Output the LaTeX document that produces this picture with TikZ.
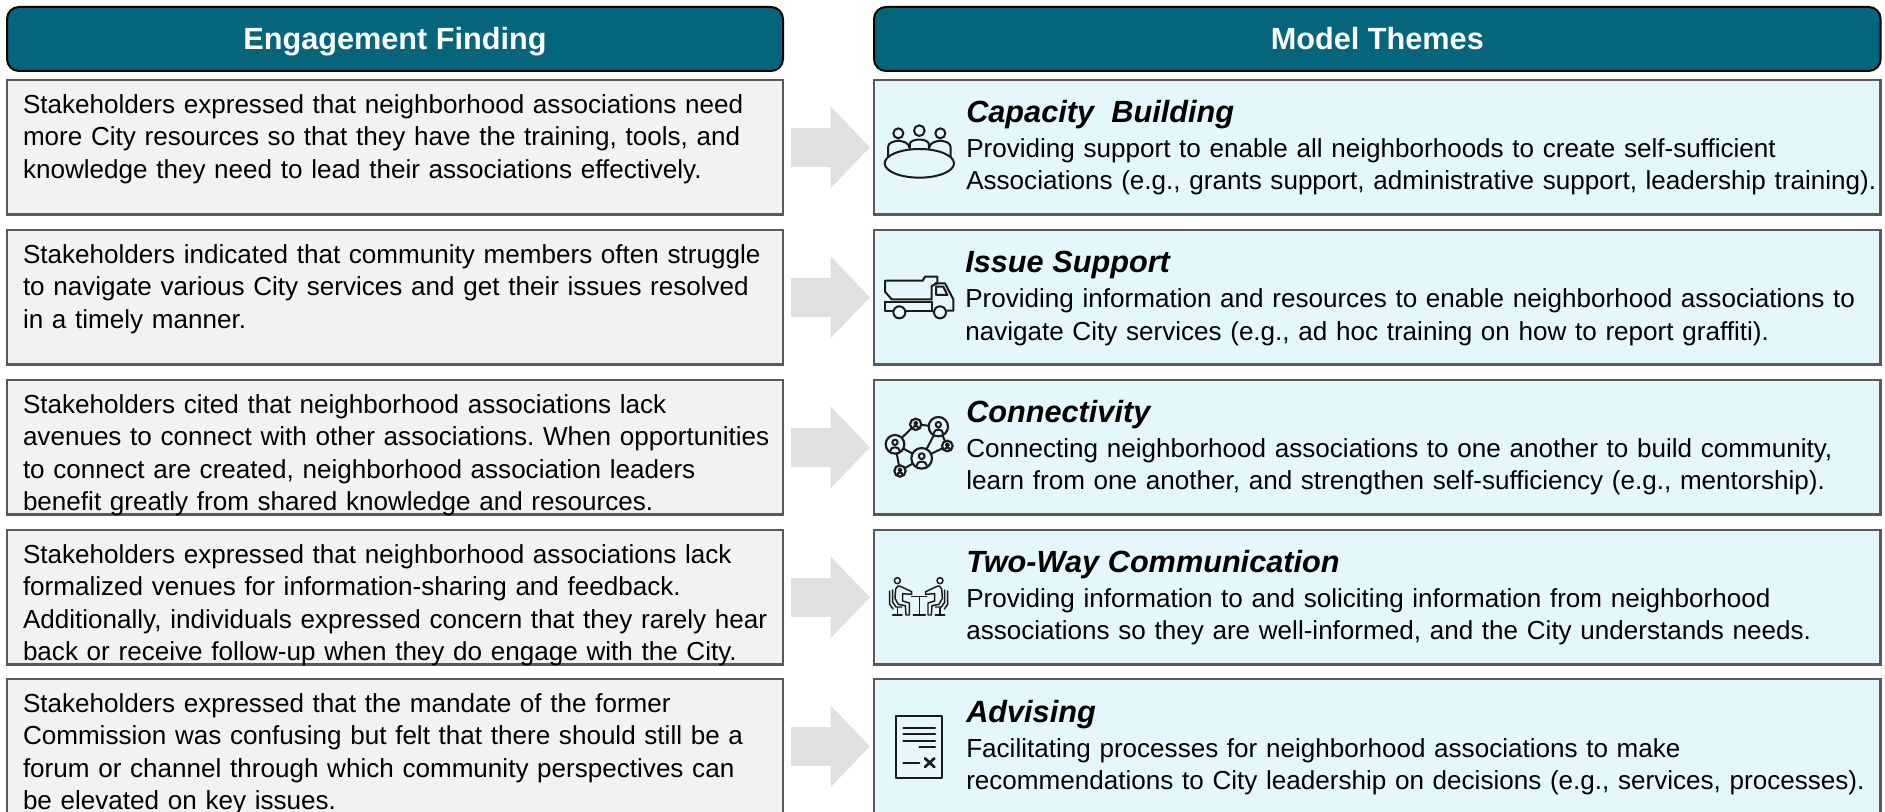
\documentclass[tikz,border=0pt]{standalone}
\usepackage{fontspec}
\setmainfont{Liberation Sans}
\usetikzlibrary{arrows.meta}

\definecolor{headteal}{HTML}{04657B}
\definecolor{findgray}{HTML}{F2F2F2}
\definecolor{themeblue}{HTML}{E4F7FC}
\definecolor{edgegray}{HTML}{595959}
\definecolor{arrowgray}{HTML}{E0E0E0}
\definecolor{iconink}{HTML}{1A1A1A}

\newcommand{\themehead}[1]{{\fontsize{23}{24.4}\selectfont\bfseries\itshape #1}\\[1.8pt]}
\newcommand{\netperson}[2]{\draw[iconline,shift={(#1)},scale=#2] (0,-6) circle (8) (-14,20) .. controls (-14,5) and (14,5) .. (14,20);}
\newcommand{\sitter}{%
\draw[iconthin] (52,47) circle (9);
\draw[iconthin] (47,72) .. controls (48,64) and (56,60) .. (65,66) -- (95,80) -- (95,88) -- (68,86) -- (68,108) -- (88,114) -- (88,150) -- (78,150) -- (76,122) -- (55,118) -- (45,100) -- cycle;
\draw[iconthin] (38,75) -- (38,112) -- (48,126) -- (66,126);
\draw[iconthin] (29,78) -- (29,118) -- (39,132);
\draw[iconthin] (52,128) -- (52,150) (38,150) -- (66,150);}

\begin{document}
\frenchspacing
\begin{tikzpicture}[
    x=0.75pt,y=-0.75pt,
    header/.style={draw=black,fill=headteal,line width=1.5pt,rounded corners=9pt,outer sep=0pt,
        minimum width=582pt,minimum height=48pt,anchor=north west,text=white,
        text height=20pt,text depth=3.5pt,
        font=\fontsize{23}{24}\selectfont\bfseries},
    finding/.style={draw=edgegray,fill=findgray,line width=2pt,outer sep=0pt,anchor=north west,
        inner xsep=12pt,inner ysep=0pt,text width=558pt,align=left,text height=25pt,text depth=76pt,
        font=\fontsize{19.55}{24.4}\selectfont},
    theme/.style={draw=edgegray,fill=themeblue,line width=2pt,outer sep=0pt,anchor=north west,
        minimum width=755pt,minimum height=101pt},
    themetext/.style={anchor=north west,inner sep=0pt,text width=690pt,align=left,
        font=\fontsize{19.55}{24.4}\selectfont},
    flow/.style={draw=arrowgray,line width=29.5pt,shorten <=6pt,shorten >=3pt,
        -{Triangle[length=29.5pt,width=59.5pt,fill=arrowgray]}},
    iconline/.style={draw=iconink,line width=1.5pt,line join=round,line cap=round},
    iconthin/.style={iconline,line width=1.1pt},
    netnode/.style={circle,draw=iconink,line width=1.6pt,inner sep=0pt,outer sep=0pt}
]
\path[use as bounding box,clip] (0,0) rectangle (1885,812);

% === Headers ===
\node[header] (HF) at (7,7) {Engagement Finding};
\node[header,minimum width=755pt] (HT) at (874,7) {Model Themes};

% === Findings ===
\node[finding] (F1) at (7,80) {Stakeholders expressed that neighborhood associations need\\
more City resources so that they have the training, tools, and\\
knowledge they need to lead their associations effectively.};
\node[finding] (F2) at (7,230) {Stakeholders indicated that community members often struggle\\
to navigate various City services and get their issues resolved\\
in a timely manner.};
\node[finding] (F3) at (7,380) {Stakeholders cited that neighborhood associations lack\\
\mbox{avenues to connect with other associations. When opportunities}\\
to connect are created, neighborhood association leaders\\
benefit greatly from shared knowledge and resources.};
\node[finding] (F4) at (7,530) {Stakeholders expressed that neighborhood associations lack\\
formalized venues for information-sharing and feedback.\\
\mbox{Additionally, individuals expressed concern that they rarely hear}\\
back or receive follow-up when they do engage with the City.};
\node[finding] (F5) at (7,679) {Stakeholders expressed that the mandate of the former\\
Commission was confusing but felt that there should still be a\\
forum or channel through which community perspectives can\\
be elevated on key issues.};

% === Themes ===
\node[theme] (T1) at (874,80) {};
\node[theme] (T2) at (874,230) {};
\node[theme] (T3) at (874,380) {};
\node[theme] (T4) at (874,530) {};
\node[theme] (T5) at (874,679) {};

\node[themetext] (X1) at (966,100) {\themehead{Capacity\ \ Building}
Providing support to enable all neighborhoods to create self-sufficient\\
Associations (e.g., grants support, administrative support, leadership training).};
\node[themetext] (X2) at (965,251) {\themehead{Issue Support}
Providing information and resources to enable neighborhood associations to\\
navigate City services (e.g., ad hoc training on how to report graffiti).};
\node[themetext] (X3) at (966,400) {\themehead{Connectivity}
Connecting neighborhood associations to one another to build community,\\
learn from one another, and strengthen self-sufficiency (e.g., mentorship).};
\node[themetext] (X4) at (966,550) {\themehead{Two-Way Communication}
Providing information to and soliciting information from neighborhood\\
associations so they are well-informed, and the City understands needs.};
\node[themetext] (X5) at (966,700) {\themehead{Advising}
Facilitating processes for neighborhood associations to make\\
recommendations to City leadership on decisions (e.g., services, processes).};

% === Arrows ===
\draw[flow] (F1.east) -- (T1.west);
\draw[flow] (F2.east) -- (T2.west);
\draw[flow] (F3.east) -- (T3.west);
\draw[flow] (F4.east) -- (T4.west);
\draw[flow] (F5.east) -- (T5.west);

% === Icon: round table ===
\begin{scope}[shift={(860,70)},x=0.25pt,y=-0.25pt]
\draw[iconline] (115,190) circle (15) (178,182) circle (16) (241,190) circle (15);
\draw[iconline] (84,262) -- (84,232) .. controls (84,218) and (100,214) .. (115,212) .. controls (130,214) and (146,218) .. (148,232);
\draw[iconline] (148,250) -- (150,220) .. controls (155,205) and (200,205) .. (206,220) -- (208,250);
\draw[iconline] (208,232) .. controls (210,218) and (226,214) .. (241,212) .. controls (256,214) and (272,218) .. (272,232) -- (272,262);
\draw[iconline,fill=themeblue] (178,280) ellipse (104 and 43);
\end{scope}

% === Icon: dump truck ===
\begin{scope}[shift={(860,70)},x=0.25pt,y=-0.25pt]
\draw[iconline] (75,632) -- (188,632) -- (195,620) -- (232,620) -- (232,640) -- (215,648) -- (215,688) -- (95,688) -- (75,665) -- cycle;
\draw[iconline] (225,640) -- (255,640) -- (280,688) -- (280,722) -- (262,722);
\draw[iconline] (228,650) -- (228,675) -- (262,675) -- (250,650) -- cycle;
\draw[iconline] (75,695) -- (215,695) (75,695) -- (75,722) -- (97,722) (140,722) -- (218,722) (215,695) -- (215,722);
\draw[iconline] (118,727) circle (18) (240,727) circle (18);
\end{scope}

% === Icon: network ===
\begin{scope}[shift={(880,410)},x=0.25pt,y=-0.25pt]
\node[netnode,minimum size=14pt] (NA) at (45,103) {};
\node[netnode,minimum size=8.5pt] (NB) at (107,43) {};
\node[netnode,minimum size=14.5pt] (NC) at (175,50) {};
\node[netnode,minimum size=8pt] (ND) at (202,108) {};
\node[netnode,minimum size=15.5pt] (NE) at (125,145) {};
\node[netnode,minimum size=8.5pt] (NF) at (60,183) {};
\draw[iconline] (NA) -- (NB);
\draw[iconline] (NB) -- (NC);
\draw[iconline] (NC) -- (ND);
\draw[iconline] (NC) -- (NE);
\draw[iconline] (ND) -- (NE);
\draw[iconline] (NA) -- (NE);
\draw[iconline] (NA) -- (NF);
\draw[iconline] (NF) -- (NE);
\netperson{NA}{1.0}
\netperson{NB}{0.55}
\netperson{NC}{1.0}
\netperson{ND}{0.55}
\netperson{NE}{1.1}
\netperson{NF}{0.55}
\end{scope}

% === Icon: meeting at table ===
\begin{scope}[shift={(880,565)},x=0.25pt,y=-0.25pt]
\draw[iconthin] (95,95) -- (140,95) (118,95) -- (118,150) (100,150) -- (136,150);
\sitter
\begin{scope}[shift={(232,0)},xscale=-1]
\sitter
\end{scope}
\end{scope}

% === Icon: document ===
\begin{scope}[shift={(885,710)},x=0.25pt,y=-0.25pt]
\draw[iconline] (33,18) rectangle (172,205);
\draw[iconline] (55,55) -- (150,55) (55,72) -- (150,72) (55,92) -- (150,92) (103,111) -- (150,111);
\draw[iconline] (55,158) -- (103,158);
\draw[iconline,line width=2pt] (120,145) -- (148,171) (148,145) -- (120,171);
\end{scope}

\end{tikzpicture}
\end{document}
